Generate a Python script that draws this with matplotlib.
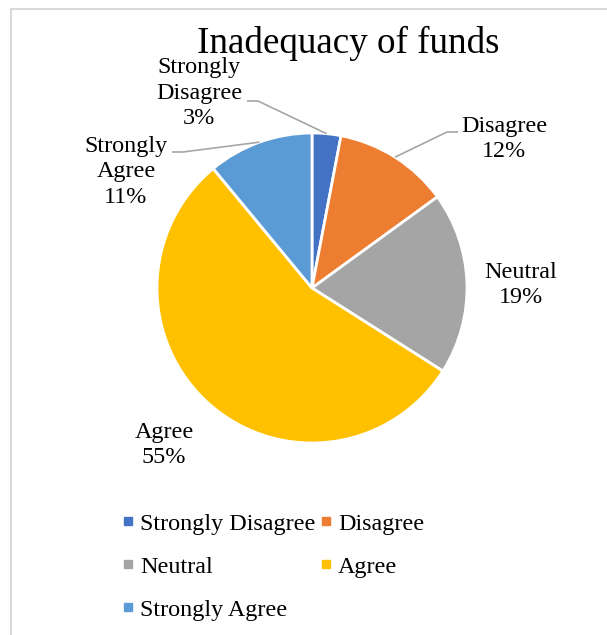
import numpy as np
import matplotlib
matplotlib.use('Agg')
import matplotlib.pyplot as plt
from matplotlib.lines import Line2D

categories = ['Strongly Disagree', 'Disagree', 'Neutral', 'Agree', 'Strongly Agree']
percents = [3, 12, 19, 55, 11]
colors = ['#4472C4', '#ED7D31', '#A5A5A5', '#FFC000', '#5B9BD5']
title = 'Inadequacy of funds'

plt.rcParams['font.family'] = ['Liberation Serif', 'DejaVu Serif']

W, H = 607, 635
fig = plt.figure(figsize=(W / 100, H / 100), dpi=100)

# pie centre / radius in pixels
cx, cy, r = 312, 288, 155
ax = fig.add_axes([(cx - r) / W, (H - cy - r) / H, 2 * r / W, 2 * r / H])
wedges, _ = ax.pie(percents, colors=colors, startangle=90, counterclock=False,
                   radius=1, wedgeprops=dict(edgecolor='white', linewidth=2))
ax.set_xlim(-1, 1)
ax.set_ylim(-1, 1)
ax.set_aspect('auto')
ax.axis('off')


def to_data(px, py):
    return (px - cx) / r, (cy - py) / r


# label centres (pixels) and leader elbows (None = no leader)
label_pos = [(199, 93), (504, 139), (521, 285), (164, 445), (126, 172)]
leaders = [[(247, 101), (258, 101)], [(458, 132), (447, 132)], None, None,
           [(172, 152), (183, 152)]]

for i, (cat, pct) in enumerate(zip(categories, percents)):
    txt = cat.replace(' ', '\n') + '\n' + f'{pct}%'
    x, y = to_data(*label_pos[i])
    ax.text(x, y, txt, ha='center', va='center', fontsize=17.4,
            linespacing=1.3, clip_on=False)
    if leaders[i] is not None:
        w = wedges[i]
        mid = np.deg2rad((w.theta1 + w.theta2) / 2)
        pts = [to_data(*p) for p in leaders[i]] + [(np.cos(mid), np.sin(mid))]
        xs, ys = zip(*pts)
        ax.plot(xs, ys, color='#a6a6a6', lw=1.2, clip_on=False,
                solid_capstyle='butt')

fig.text(348 / W, 1 - 43 / H, title, ha='center', va='center', fontsize=26.7)

# legend (Excel fills rows; matplotlib fills columns)
order = [0, 2, 4, 1, 3]
handles = [Line2D([], [], marker='s', ls='none', markersize=6,
                  markerfacecolor=colors[k], markeredgecolor=colors[k])
           for k in order]
fig.legend(handles, [categories[k] for k in order], ncol=2, frameon=False,
           loc='upper left', bbox_to_anchor=(123 / W, 1 - 513 / H),
           fontsize=17.4, borderpad=0, borderaxespad=0, handlelength=0.4,
           handletextpad=0.3, columnspacing=0.25, labelspacing=0.87)

# chart-area border (clipped at right and bottom)
border = '#d9d9d9'
fig.add_artist(Line2D([10.5 / W, 1], [1 - 9 / H, 1 - 9 / H], color=border, lw=1.5,
                      transform=fig.transFigure))
fig.add_artist(Line2D([10.5 / W, 10.5 / W], [0, 1 - 9 / H], color=border, lw=1.5,
                      transform=fig.transFigure))

fig.savefig('out.png', dpi=100, facecolor='white')
